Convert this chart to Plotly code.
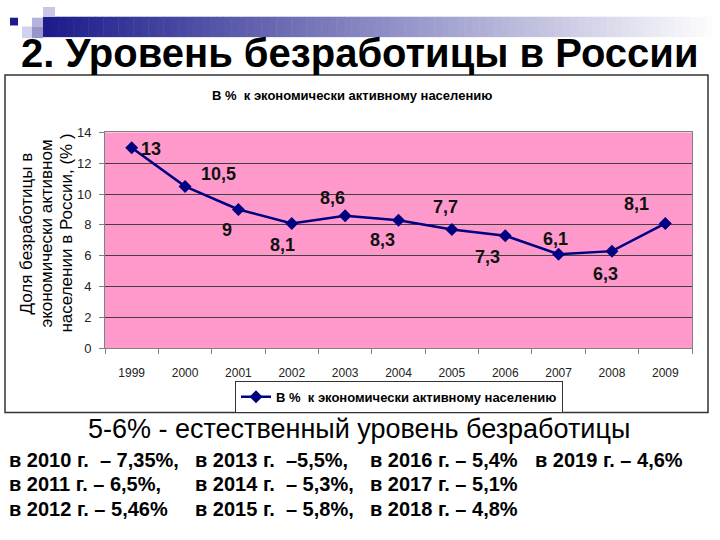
import plotly.graph_objects as go

# данные
years = ["1999", "2000", "2001", "2002", "2003", "2004", "2005", "2006", "2007", "2008", "2009"]
unemployment = [13, 10.5, 9, 8.1, 8.6, 8.3, 7.7, 7.3, 6.1, 6.3, 8.1]
series_name = "В %  к экономически активному населению"
y_title_lines = ["Доля безработицы в", "экономически активном", "населении в России, (% )"]

later_rows = [
    ["в 2010 г.  – 7,35%,", "в 2013 г.  –5,5%,", "в 2016 г. – 5,4%", "в 2019 г. – 4,6%"],
    ["в 2011 г. – 6,5%,", "в 2014 г.  – 5,3%,", "в 2017 г. – 5,1%"],
    ["в 2012 г. – 5,46%", "в 2015 г.  – 5,8%,", "в 2018 г. – 4,8%"],
]

# смещения подписей (пиксели)
label_dx = [19, 33, -11, -9, -13, -16, -6, -18, -3, -6, -29]
label_dy = [-1, 12, -21, -22, 18, -20, 23, -21, 15, -23, 19]

W, H = 720, 540
FONT = "Liberation Sans, Arial, sans-serif"


def px(x):
    return x / W


def py(y):
    return 1 - y / H


xs = list(range(len(years)))

fig = go.Figure()
fig.add_trace(go.Scatter(
    x=xs, y=unemployment, name=series_name, mode="lines+markers",
    line=dict(color="#000080", width=2.5),
    marker=dict(symbol="diamond", size=10, color="#000080"),
))

shapes = []
# декоративная полоса с градиентом
n = 90
x0, x1 = 43, 720
for i in range(n):
    t = i / (n - 1)
    r = int(28 + t * (255 - 28))
    g = int(28 + t * (255 - 28))
    b = int(140 + t * (255 - 140))
    shapes.append(dict(type="rect", xref="paper", yref="paper",
                       x0=px(x0 + (x1 - x0) * i / n), x1=px(x0 + (x1 - x0) * (i + 1) / n + 0.5),
                       y0=py(31), y1=py(10), line=dict(width=0),
                       fillcolor=f"rgb({r},{g},{b})", layer="below"))

squares = [
    (10, 11, 18, 19, "#1c1c8c"),
    (43, 0, 55, 10, "#c8c8e6"),
    (32, 11, 43, 20, "#b4b4dc"),
    (22, 20, 33, 32, "#d2d2ec"),
    (32, 20, 43, 32, "#9696cc"),
]
for a, b_, c, d, col in squares:
    shapes.append(dict(type="rect", xref="paper", yref="paper",
                       x0=px(a), x1=px(c), y0=py(d), y1=py(b_),
                       line=dict(width=0), fillcolor=col))

# рамка диаграммы
shapes.append(dict(type="rect", xref="paper", yref="paper",
                   x0=px(5), x1=px(708), y0=py(417), y1=py(70),
                   line=dict(color="#333333", width=1.5)))

annotations = []
for i, v in enumerate(unemployment):
    annotations.append(dict(
        x=xs[i], y=v, xref="x", yref="y", text="<b>" + f"{v:g}".replace(".", ",") + "</b>",
        showarrow=False, xshift=label_dx[i], yshift=label_dy[i],
        xanchor="center", yanchor="middle",
        font=dict(family=FONT, size=18, color="#111111"),
    ))


def note(x, y, text, size, bold=False, anchor="center", angle=0):
    if bold:
        text = "<b>" + text + "</b>"
    annotations.append(dict(x=px(x), y=py(y), xref="paper", yref="paper", text=text,
                            showarrow=False, xanchor=anchor, yanchor="middle",
                            align="left" if anchor == "left" else "center",
                            textangle=angle,
                            font=dict(family=FONT, size=size, color="black")))


# заголовок слайда
note(360, 47, "2. Уровень безработицы в России", 40, bold=True)
# заголовок диаграммы
note(352, 91, series_name, 13, bold=True)
# подпись оси Y
for k, line in enumerate(y_title_lines):
    note(27 + 20 * k, 233, line, 17, angle=-90)
# текст под диаграммой
note(359, 434, "5-6% - естественный уровень безработицы", 27)
col_x = [7, 193, 368, 533]
row_y = [466, 491, 516]
for r, row in enumerate(later_rows):
    for c, txt in enumerate(row):
        note(col_x[c], row_y[r], txt, 20, bold=True, anchor="left")

fig.update_layout(
    width=W, height=H,
    margin=dict(l=0, r=0, t=0, b=0),
    paper_bgcolor="white",
    plot_bgcolor="#FF99CC",
    font=dict(family=FONT, color="black"),
    showlegend=True,
    legend=dict(x=px(399), y=py(401), xanchor="center", yanchor="middle",
                orientation="h", bgcolor="white", bordercolor="#333333", borderwidth=1,
                font=dict(family=FONT, size=13, color="black", weight="bold")),
    xaxis=dict(domain=[px(105), px(692)], range=[-0.5, 10.5],
               tickmode="array", tickvals=xs, ticktext=years, ticks="",
               ticklabelstandoff=13,
               tickfont=dict(family=FONT, size=12, color="#222222"),
               showgrid=False, zeroline=False,
               showline=True, linecolor="#808080", linewidth=1, mirror=True,
               minor=dict(tickmode="array", tickvals=[i - 0.5 for i in range(len(years) + 1)],
                          ticks="outside", ticklen=5, tickcolor="#808080")),
    yaxis=dict(domain=[py(351), py(129)], range=[0, 14], dtick=2,
               ticks="outside", ticklen=5, tickcolor="#808080",
               ticklabelstandoff=5,
               tickfont=dict(family=FONT, size=13, color="#222222"),
               showgrid=True, gridcolor="#404040", gridwidth=1, zeroline=False,
               showline=True, linecolor="#808080", linewidth=1, mirror=True),
    shapes=shapes,
    annotations=annotations,
)

fig.write_html("out.html", config={"displayModeBar": False},
               post_script="document.body.style.margin='0';")
